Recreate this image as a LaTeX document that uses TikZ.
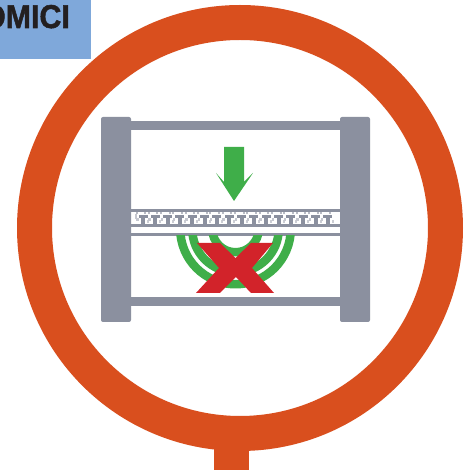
\documentclass[tikz,border=0pt]{standalone}
\usepackage{fontspec}
\setmainfont[BoldFeatures={FakeBold=1.6}]{Liberation Sans}
\definecolor{ringc}{HTML}{D94F1E}
\definecolor{framec}{HTML}{8B909F}
\definecolor{greenc}{HTML}{3FAE49}
\definecolor{redc}{HTML}{D2232A}
\definecolor{bluec}{HTML}{7FA8DA}
\definecolor{inkc}{HTML}{231F20}
\tikzset{framefill/.style={fill=framec,draw=none},
  arcg/.style={fill=greenc,draw=none,even odd rule}}
\begin{document}
\begin{tikzpicture}[x=1pt,y=-1pt]
\useasboundingbox (0,0) rectangle (472,470);
\fill[white] (0,0) rectangle (472,470);
% label tab
\fill[bluec] (0,0) rectangle (91,59);
\begin{scope}
\clip (0,0) rectangle (91,59);
\node[anchor=base east,inner sep=0pt,text=inkc,font=\bfseries\fontsize{33}{33}\selectfont,xscale=0.92] (tab) at (70,28) {OMICI};
\end{scope}
% ring
\fill[ringc] (214,440) rectangle (249,470);
\fill[ringc,even odd rule] (240,228) circle[radius=223] (240,228) circle[radius=188];
% frame bars
\fill[framefill] (125,121) rectangle (345,130);
\fill[framefill] (125,297) rectangle (345,306);
\fill[framefill,rounded corners=2pt] (101,117) rectangle (131,322);
\fill[framefill,rounded corners=2pt] (340,117) rectangle (370,322);
% strip
\fill[framefill] (131,209) rectangle (340,212);
\fill[framefill] (131,224) rectangle (340,227);
\fill[framefill] (131,233) rectangle (340,236);
\foreach \k in {0,...,15}{
  \pgfmathsetmacro{\x}{143+12.33*\k}
  \fill[framec] (\x-4.5,215.5) rectangle (\x+4.5,218);
  \fill[framec] (\x-2,215.5) rectangle (\x+2,224);
  \fill[framec!60] (\x-7.5,212) rectangle (\x-5.5,214.5);
  \fill[framec!50] (\x-7,218) rectangle (\x-4.5,221);
  \fill[framec!45] (\x+4,220) rectangle (\x+6,223);
  \fill[framec!60] (\x+1,212) rectangle (\x+3,214);
}
\fill[framec!50] (135,214) rectangle (137,219);
% arcs
\begin{scope}
\clip (170,236) rectangle (300,295);
\fill[arcg] (235.5,229) circle[radius=59.5] (235.5,229) circle[radius=51];
\fill[arcg] (235.5,229) circle[radius=47.5] (235.5,229) circle[radius=39];
\fill[arcg] (235.5,229) circle[radius=27.5] (235.5,229) circle[radius=19];
\end{scope}
% red cross
\fill[redc] (197,243) -- (220,243) -- (235.5,258) -- (251,243) -- (273,243)
  -- (252,268) -- (274,293) -- (251,293) -- (236,277) -- (220,293) -- (196,293)
  -- (219,268) -- cycle;
% arrow
\fill[greenc] (224,147) -- (244,147) -- (244,182) -- (253,173) -- (234,201)
  -- (216,173) -- (224,182) -- cycle;
\end{tikzpicture}
\end{document}
